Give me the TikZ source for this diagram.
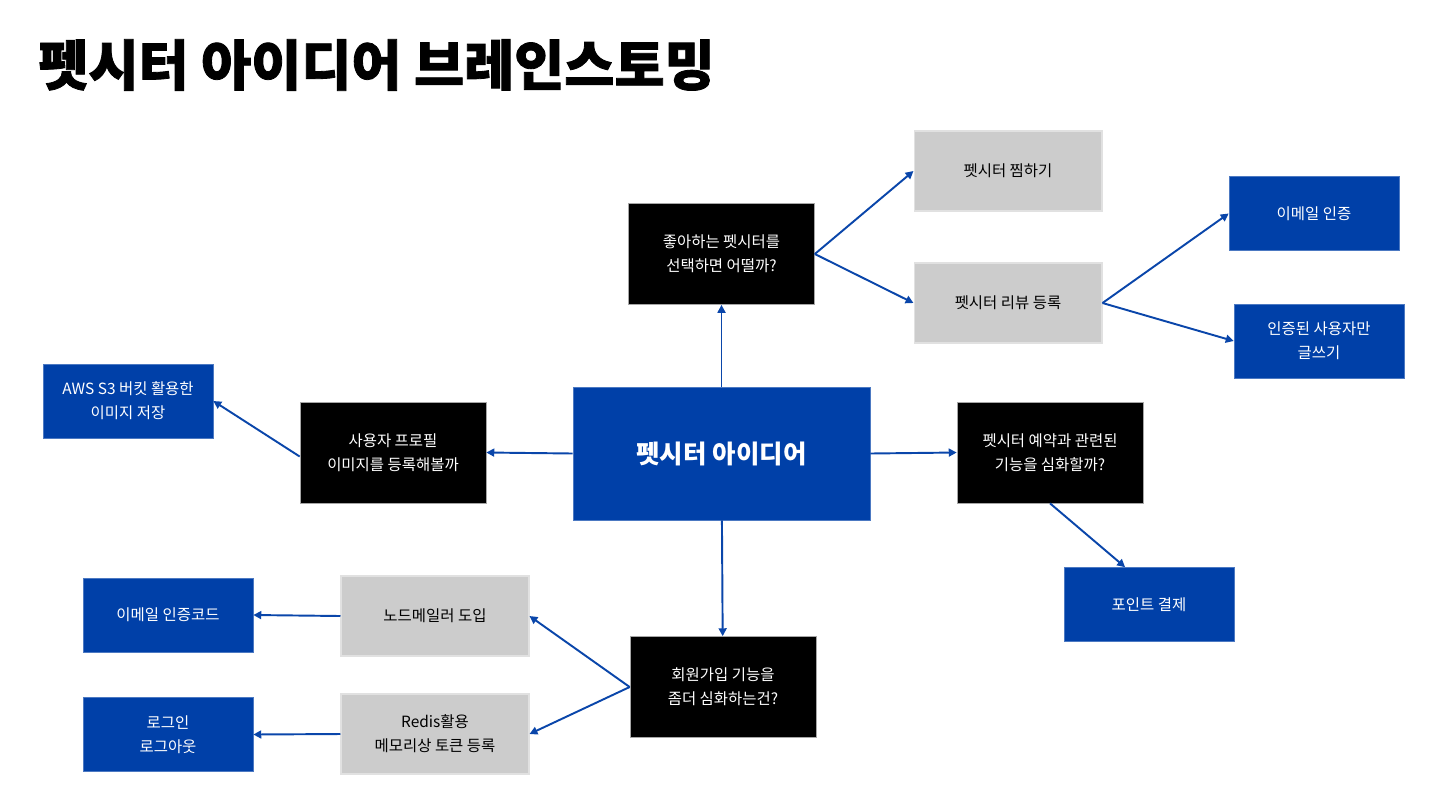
\documentclass[tikz,border=0pt]{standalone}
\usepackage{fontspec}
\setmainfont{Noto Sans CJK KR}
\newfontfamily\titlefont[FakeBold=1.5]{Noto Sans CJK KR}
\usepackage{tikz}
\usetikzlibrary{arrows.meta,positioning,calc}
\usepackage{xcolor}
\definecolor{pblue}{RGB}{0,64,168}
\definecolor{parrow}{RGB}{10,70,170}
\definecolor{pgray}{RGB}{204,204,204}
\definecolor{pedge}{RGB}{225,225,225}

\begin{document}
\begin{tikzpicture}[x=0.02cm, y=-0.02cm,
    box/.style={inner sep=2pt, align=center, font=\fontsize{8.8}{13.6}\selectfont},
    qbox/.style={box, fill=black, draw=gray!70, line width=0.4pt, text=white,
                 minimum width=3.72cm, minimum height=2.02cm},
    gbox/.style={box, fill=pgray, draw=pedge, line width=0.6pt, text=black,
                 minimum width=3.76cm, minimum height=1.6cm},
    bbox/.style={box, fill=pblue, draw=pblue!70!white, line width=0.4pt, text=white,
                 minimum width=3.4cm, minimum height=1.48cm},
    arr/.style={-{Triangle[length=4.5pt, width=4.5pt]}, line width=1.1pt, draw=parrow}
]
\useasboundingbox (0,0) rectangle (1441,796);

% Title
\node[anchor=west, inner sep=0pt, font=\fontsize{31}{31}\titlefont\bfseries] (title) at (38,65) {펫시터 아이디어 브레인스토밍};

% Center
\node[bbox, minimum width=5.94cm, minimum height=2.66cm,
      font=\fontsize{14.5}{16}\selectfont\bfseries] (idea) at (721.5,453.5) {펫시터 아이디어};

% Questions
\node[qbox] (like) at (721.5,254) {좋아하는 펫시터를\\선택하면 어떨까?};
\node[qbox] (profile) at (393,452.5) {사용자 프로필\\이미지를 등록해볼까};
\node[qbox] (reserve) at (1050,452.5) {펫시터 예약과 관련된\\기능을 심화할까?};
\node[qbox] (signup) at (723,687) {회원가입 기능을\\좀더 심화하는건?};

% Gray ideas
\node[gbox] (wish) at (1008,171) {펫시터 찜하기};
\node[gbox] (review) at (1008,303) {펫시터 리뷰 등록};
\node[gbox] (mailer) at (435,616) {노드메일러 도입};
\node[gbox] (redis) at (435,734) {Redis활용\\메모리상 토큰 등록};

% Blue details
\node[bbox] (mailauth) at (1314,213.5) {이메일 인증};
\node[bbox] (authwrite) at (1319,341) {인증된 사용자만\\글쓰기};
\node[bbox] (aws) at (128,401) {AWS S3 버킷 활용한\\이미지 저장};
\node[bbox] (point) at (1149,604.5) {포인트 결제};
\node[bbox] (mailcode) at (168,615) {이메일 인증코드};
\node[bbox] (login) at (168,734.5) {로그인\\로그아웃};

% Connectors
\draw[arr] (idea) -- (like);
\draw[arr] (like.east) -- (wish.west);
\draw[arr] (like.east) -- (review.west);
\draw[arr] (review.east) -- (mailauth.west);
\draw[arr] (review.east) -- (authwrite.west);
\draw[arr] (idea.west) -- (profile.east);
\draw[arr] ($(profile.west)+(0,4)$) -- (aws.east);
\draw[arr] (idea.east) -- (reserve.west);
\draw[arr] (reserve.south) -- ($(point.north west)!0.36!(point.north east)$);
\draw[arr] (idea) -- (signup);
\draw[arr] (signup.west) -- (mailer.east);
\draw[arr] (signup.west) -- (redis.east);
\draw[arr] (mailer.west) -- (mailcode.east);
\draw[arr] (redis.west) -- (login.east);

\end{tikzpicture}
\end{document}
